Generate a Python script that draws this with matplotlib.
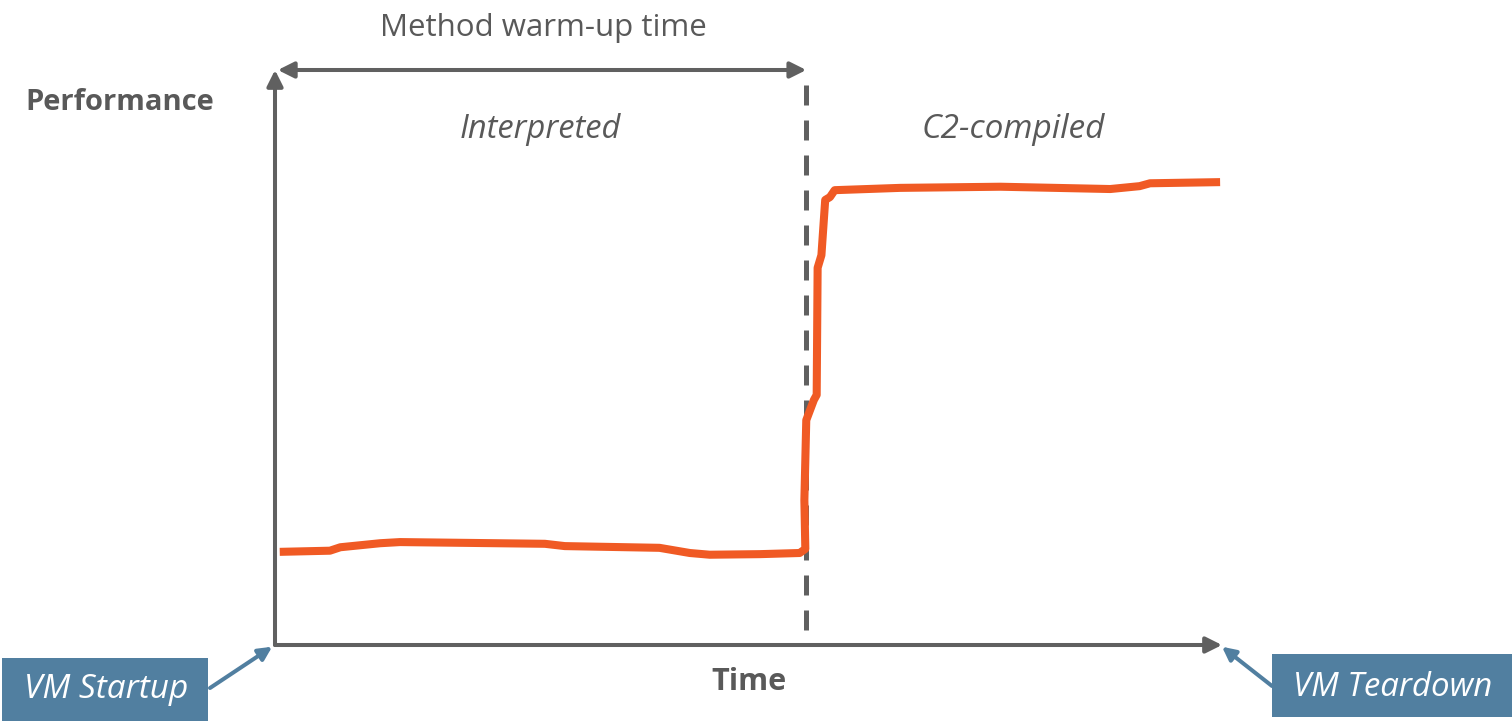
import matplotlib.pyplot as plt
from matplotlib.patches import Rectangle

# performance curve (time and performance in % of the axis range)
time_pts = [0.5, 5.8, 6.9, 11.1, 13.2, 28.5, 30.6, 40.6, 43.8, 45.9, 51.2, 55.4, 56.0,
            55.9, 56.1, 56.9, 57.2, 57.3, 57.7, 58.1, 58.6, 59.1, 66.0, 76.6, 88.2,
            91.3, 92.4, 99.8]
perf_pts = [16.2, 16.4, 17.0, 17.7, 17.9, 17.6, 17.2, 16.9, 16.0, 15.7, 15.8, 16.0, 16.7,
            25.2, 39.1, 42.6, 43.5, 65.6, 67.8, 77.4, 77.9, 79.1, 79.5, 79.7, 79.3,
            79.8, 80.3, 80.5]
warmup_end = 56.1

gray = '#606060'
text_gray = '#595959'
orange = '#F05A24'
blue = '#517FA0'
font = 'Open Sans'

fig = plt.figure(figsize=(15.12, 7.21), dpi=100)
ax = fig.add_axes([275 / 1512, 76 / 721, 947 / 1512, 575 / 721])
ax.set_xlim(0, 100)
ax.set_ylim(0, 100)
ax.axis('off')

# axes arrows
ax.annotate('', xy=(0, 1), xytext=(0, 0), xycoords='axes fraction',
            arrowprops=dict(arrowstyle='-|>', color=gray, lw=2.9, mutation_scale=24,
                            shrinkA=0, shrinkB=0))
ax.annotate('', xy=(1, 0), xytext=(0, 0), xycoords='axes fraction',
            arrowprops=dict(arrowstyle='-|>', color=gray, lw=2.9, mutation_scale=24,
                            shrinkA=0, shrinkB=0))

# warm-up span
ax.annotate('', xy=(0.3, 100), xytext=(warmup_end, 100), xycoords='data',
            arrowprops=dict(arrowstyle='<|-|>', color=gray, lw=2.9, mutation_scale=24,
                            shrinkA=0, shrinkB=0))
ax.vlines(warmup_end, 2.6, 98.6, colors=gray, lw=3.6, linestyles=(0, (4, 3)))

ax.plot(time_pts, perf_pts, color=orange, lw=5.8, solid_capstyle='butt',
        solid_joinstyle='round')

# labels
fig.text(543 / 1512, 1 - 28 / 721, 'Method warm-up time', ha='center', va='center',
         fontsize=22.5, color=text_gray, family=font)
fig.text(25 / 1512, 1 - 102 / 721, 'Performance', ha='left', va='center',
         fontsize=21, color=text_gray, family=font, fontweight='bold')
ax.text(28, 89.6, 'Interpreted', ha='center', va='center', fontsize=23.5, color=text_gray,
        family=font, style='italic')
ax.text(78, 89.6, 'C2-compiled', ha='center', va='center', fontsize=24, color=text_gray,
        family=font, style='italic')
fig.text(749 / 1512, 1 - 682 / 721, 'Time', ha='center', va='center',
         fontsize=22, color=text_gray, family=font, fontweight='bold')

# VM boxes
fig.add_artist(Rectangle((2 / 1512, 0), 206 / 1512, 63 / 721, transform=fig.transFigure,
                         facecolor=blue, edgecolor='none'))
fig.text(106 / 1512, 1 - 690 / 721, 'VM Startup', ha='center', va='center',
         fontsize=24, color='white', family=font, style='italic')
fig.add_artist(Rectangle((1272 / 1512, 4 / 721), 240 / 1512, 63 / 721,
                         transform=fig.transFigure, facecolor=blue, edgecolor='none'))
fig.text(1393 / 1512, 1 - 687 / 721, 'VM Teardown', ha='center', va='center',
         fontsize=23.8, color='white', family=font, style='italic')

ax.annotate('', xy=(-0.003, -0.003), xycoords='axes fraction',
            xytext=(210 / 1512, 1 - 688 / 721), textcoords='figure fraction',
            arrowprops=dict(arrowstyle='-|>', color=blue, lw=2.9, mutation_scale=20,
                            shrinkA=0, shrinkB=0))
ax.annotate('', xy=(1.0, -0.003), xycoords='axes fraction',
            xytext=(1272 / 1512, 1 - 686 / 721), textcoords='figure fraction',
            arrowprops=dict(arrowstyle='-|>', color=blue, lw=2.9, mutation_scale=20,
                            shrinkA=0, shrinkB=0))

fig.savefig('out.png', dpi=100)
